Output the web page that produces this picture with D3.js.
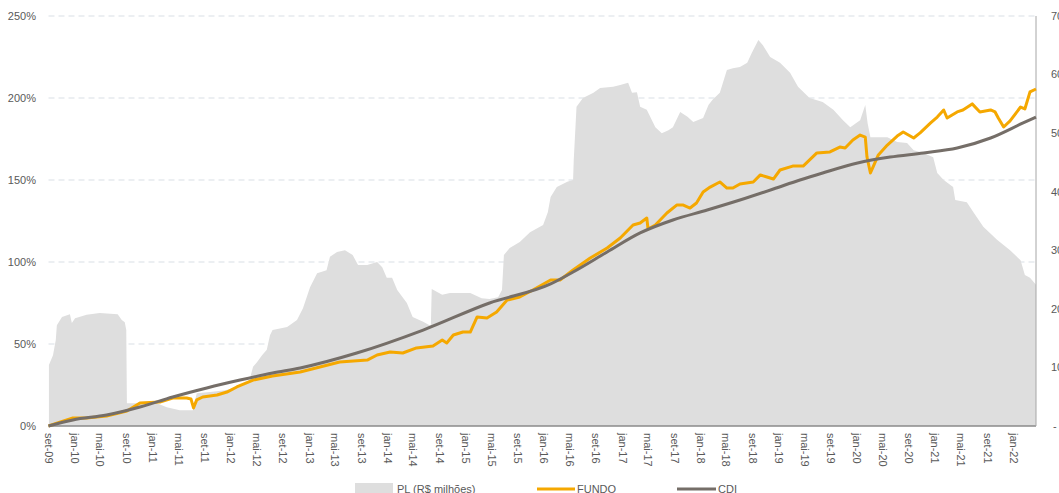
<!DOCTYPE html>
<html>
<head>
<meta charset="utf-8">
<script src="https://cdn.jsdelivr.net/npm/d3@7"></script>
<style>
  body { margin: 0; background: #fff; }
  svg { display: block; font-family: "Liberation Sans", Arial, sans-serif; }
</style>
</head>
<body>
<div id="chart"></div>
<script>
// PL do fundo (R$ milhões) - eixo direito
var plDates = ["2009-09-03","2009-09-22","2009-10-05","2009-10-10","2009-11-03","2009-12-10","2009-12-19","2010-01-03","2010-02-26","2010-04-28","2010-07-21","2010-08-09","2010-08-23","2010-08-30","2010-09-02","2011-01-20","2011-03-07","2011-05-07","2011-07-07","2011-07-25","2011-09-25","2011-12-04","2012-02-12","2012-03-28","2012-04-13","2012-05-01","2012-05-25","2012-06-16","2012-07-01","2012-07-13","2012-09-19","2012-11-04","2012-12-02","2013-01-04","2013-02-06","2013-03-22","2013-04-07","2013-05-10","2013-06-16","2013-07-22","2013-08-16","2013-09-28","2013-11-13","2013-12-07","2013-12-28","2014-01-22","2014-02-15","2014-04-01","2014-04-28","2014-06-16","2014-07-16","2014-07-22","2014-07-26","2014-09-13","2014-10-19","2015-01-22","2015-03-16","2015-04-22","2015-06-01","2015-06-19","2015-06-28","2015-07-25","2015-09-10","2015-10-28","2015-12-28","2016-01-19","2016-02-01","2016-03-01","2016-04-19","2016-05-16","2016-05-19","2016-06-01","2016-07-01","2016-08-19","2016-09-19","2016-11-19","2016-12-22","2017-01-28","2017-02-15","2017-03-10","2017-03-25","2017-04-25","2017-06-04","2017-07-04","2017-08-04","2017-08-25","2017-09-28","2017-11-01","2017-11-28","2018-01-13","2018-02-07","2018-02-26","2018-04-01","2018-05-04","2018-06-01","2018-07-04","2018-08-07","2018-08-28","2018-09-28","2018-10-19","2018-11-22","2019-01-07","2019-02-23","2019-04-01","2019-05-25","2019-07-25","2019-09-13","2019-10-28","2019-12-01","2020-01-16","2020-02-09","2020-02-20","2020-03-04","2020-04-04","2020-05-22","2020-07-07","2020-08-22","2020-09-22","2020-11-07","2020-12-22","2021-01-10","2021-02-09","2021-03-25","2021-04-04","2021-05-28","2021-06-28","2021-08-13","2021-10-16","2021-12-16","2022-02-03","2022-02-23","2022-03-19","2022-04-16"];
var plValues = [104,121,147,172,186,191,176,184,190,193,191,181,177,164,39,39,32,27,27,56,58,61,67,79,101,109,121,130,155,164,169,181,201,237,261,266,289,297,300,292,275,275,280,271,253,253,232,210,186,178,172,172,234,224,227,227,218,217,220,232,292,304,314,331,343,365,391,408,417,420,454,545,560,569,577,579,582,586,569,570,545,540,510,500,505,510,536,528,519,526,548,557,569,608,611,613,620,637,659,650,630,620,603,579,560,553,540,522,510,522,548,517,493,493,493,485,483,471,466,459,432,420,408,386,382,365,340,318,300,283,258,253,241];

// rentabilidade acumulada do fundo (%)
var fundoDates = ["2009-09-01","2009-10-24","2009-12-24","2010-02-26","2010-05-30","2010-09-02","2010-11-02","2011-02-03","2011-04-04","2011-06-08","2011-06-28","2011-07-10","2011-07-25","2011-08-22","2011-10-28","2011-12-13","2012-01-28","2012-04-13","2012-07-13","2012-11-19","2013-05-22","2013-09-28","2013-11-13","2014-01-13","2014-03-13","2014-05-16","2014-08-01","2014-09-13","2014-10-04","2014-11-04","2014-12-19","2015-01-22","2015-02-23","2015-04-10","2015-05-25","2015-07-13","2015-09-10","2015-11-10","2016-02-01","2016-03-16","2016-05-16","2016-08-04","2016-10-22","2016-12-22","2017-02-20","2017-03-25","2017-04-25","2017-05-01","2017-06-04","2017-07-28","2017-09-13","2017-10-10","2017-11-13","2017-12-13","2018-01-13","2018-02-15","2018-04-01","2018-05-04","2018-06-01","2018-07-04","2018-09-04","2018-10-07","2018-11-07","2018-12-07","2019-01-07","2019-03-07","2019-04-25","2019-06-28","2019-08-28","2019-10-13","2019-11-07","2019-12-13","2020-01-16","2020-02-09","2020-02-17","2020-03-04","2020-03-16","2020-04-10","2020-05-22","2020-07-07","2020-08-04","2020-09-22","2020-10-22","2020-12-10","2021-01-10","2021-02-09","2021-02-25","2021-04-13","2021-05-10","2021-06-22","2021-07-28","2021-09-16","2021-10-07","2021-10-22","2021-11-16","2021-12-16","2022-02-03","2022-02-23","2022-03-19","2022-04-16"];
var fundoValues = [0,2.4,4.9,4.9,6.1,9.1,14.0,14.6,17.1,17.1,16.5,11.0,15.9,17.7,18.9,20.7,23.8,28.0,30.5,32.9,39.0,40.2,43.3,45.1,44.5,47.6,48.8,52.4,50.6,55.5,57.3,57.3,66.5,65.9,69.5,76.8,78.7,82.9,89.0,89.0,95.1,102.4,108.5,114.6,122.6,123.8,126.8,120.1,122.6,129.9,134.8,134.8,132.9,136.0,142.7,145.7,148.8,145.1,145.1,147.6,148.8,153.1,151.8,150.6,156.1,158.5,158.5,166.5,167.1,170.1,169.5,174.4,177.4,176.2,164.0,154.3,157.9,165.3,171.3,176.8,179.3,175.6,178.7,184.8,188.4,192.7,187.8,191.5,192.7,196.4,191.5,192.7,191.5,187.8,182.3,186.0,194.5,193.3,203.7,205.5];

// CDI acumulado (%)
var cdiDates = ["2009-09-01","2009-12-24","2010-05-30","2010-11-02","2011-04-04","2011-09-10","2012-02-12","2012-07-13","2012-11-19","2013-08-10","2014-06-16","2015-04-22","2016-02-01","2016-05-16","2016-10-22","2017-03-25","2017-08-25","2018-02-01","2018-07-04","2018-12-07","2019-04-10","2019-07-25","2020-01-04","2020-06-04","2020-11-07","2021-04-13","2021-09-16","2022-02-15","2022-04-16"];
var cdiValues = [0,3.7,6.7,11.6,17.7,23.2,28.0,32.3,35.4,44.5,58.5,75.0,86.6,93.9,106.1,117.7,125.6,131.7,137.8,144.5,150.0,154.3,160.4,164.0,166.5,169.5,175.6,184.8,188.4];

var leftTicks = [0, 50, 100, 150, 200, 250];
var rightTicks = [0, 100, 200, 300, 400, 500, 600, 700];
var monthNames = ["jan","fev","mar","abr","mai","jun","jul","ago","set","out","nov","dez"];
var legendLabels = ["PL (R$ milhões)", "FUNDO", "CDI"];

var W = 1059, H = 493;
var plot = {left: 48.5, right: 1036, top: 16, bottom: 426};
var parse = d3.timeParse("%Y-%m-%d");

var pl = plDates.map(function(d, i) { return {date: parse(d), value: plValues[i]}; });
var fundo = fundoDates.map(function(d, i) { return {date: parse(d), value: fundoValues[i]}; });
var cdi = cdiDates.map(function(d, i) { return {date: parse(d), value: cdiValues[i]}; });

var x = d3.scaleTime()
    .domain([parse("2009-09-01"), parse("2022-04-16")])
    .range([plot.left, plot.right]);
var yPct = d3.scaleLinear().domain([0, 250]).range([plot.bottom, plot.top]);
var yPl = d3.scaleLinear().domain([0, 700]).range([plot.bottom, plot.top]);

var svg = d3.select("#chart").append("svg")
    .attr("width", W)
    .attr("height", H);

// grid
svg.append("g")
  .selectAll("line")
  .data(leftTicks.slice(1))
  .enter().append("line")
    .attr("x1", plot.left).attr("x2", plot.right)
    .attr("y1", function(d) { return yPct(d); })
    .attr("y2", function(d) { return yPct(d); })
    .attr("stroke", "#d9dfe5")
    .attr("stroke-width", 1)
    .attr("stroke-dasharray", "6,4");

// PL area
var area = d3.area()
    .x(function(d) { return x(d.date); })
    .y0(plot.bottom)
    .y1(function(d) { return yPl(d.value); });
svg.append("path")
    .datum(pl)
    .attr("d", area)
    .attr("fill", "#dedede");

// bottom axis line + right axis line
svg.append("line")
    .attr("x1", plot.left).attr("x2", plot.right)
    .attr("y1", plot.bottom).attr("y2", plot.bottom)
    .attr("stroke", "#8a8a8a").attr("stroke-width", 1.5);
svg.append("line")
    .attr("x1", plot.right).attr("x2", plot.right)
    .attr("y1", plot.top).attr("y2", plot.bottom)
    .attr("stroke", "#a6a6a6").attr("stroke-width", 1);

var line = function(scale, curve) {
  return d3.line()
    .x(function(d) { return x(d.date); })
    .y(function(d) { return scale(d.value); })
    .curve(curve);
};

svg.append("path")
    .datum(fundo)
    .attr("d", line(yPct, d3.curveLinear))
    .attr("fill", "none")
    .attr("stroke", "#f5a800")
    .attr("stroke-width", 3)
    .attr("stroke-linejoin", "round");

svg.append("path")
    .datum(cdi)
    .attr("d", line(yPct, d3.curveMonotoneX))
    .attr("fill", "none")
    .attr("stroke", "#756e68")
    .attr("stroke-width", 3);

// left axis labels
svg.append("g")
  .selectAll("text")
  .data(leftTicks)
  .enter().append("text")
    .attr("x", 36)
    .attr("y", function(d) { return yPct(d); })
    .attr("dy", "0.35em")
    .attr("text-anchor", "end")
    .attr("font-size", 11)
    .attr("fill", "#595959")
    .text(function(d) { return d + "%"; });

// right axis labels (cut at page edge like the original)
svg.append("g")
  .selectAll("text")
  .data(rightTicks)
  .enter().append("text")
    .attr("x", function(d) { return d === 0 ? 1053 : 1051; })
    .attr("y", function(d) { return yPl(d); })
    .attr("dy", "0.35em")
    .attr("font-size", 11)
    .attr("fill", "#595959")
    .text(function(d) { return d === 0 ? "-" : d; });

// date labels every 4 months
var ticks = d3.timeMonth.every(4).range(parse("2009-09-01"), parse("2022-02-01"));
svg.append("g")
  .selectAll("text")
  .data(ticks)
  .enter().append("text")
    .attr("transform", function(d) { return "translate(" + x(d) + "," + 433 + ") rotate(90)"; })
    .attr("dy", "0.35em")
    .attr("font-size", 11)
    .attr("fill", "#595959")
    .text(function(d) { return monthNames[d.getMonth()] + "-" + d3.timeFormat("%y")(d); });

// legend
var leg = svg.append("g").attr("font-size", 11).attr("fill", "#595959");
leg.append("rect").attr("x", 355).attr("y", 483).attr("width", 38).attr("height", 12).attr("fill", "#dedede");
leg.append("text").attr("x", 397).attr("y", 493).text(legendLabels[0]);
leg.append("line").attr("x1", 537).attr("x2", 575).attr("y1", 489).attr("y2", 489)
    .attr("stroke", "#f5a800").attr("stroke-width", 3);
leg.append("text").attr("x", 577).attr("y", 493).text(legendLabels[1]);
leg.append("line").attr("x1", 677).attr("x2", 716).attr("y1", 489).attr("y2", 489)
    .attr("stroke", "#756e68").attr("stroke-width", 3);
leg.append("text").attr("x", 718).attr("y", 493).text(legendLabels[2]);
</script>
</body>
</html>
